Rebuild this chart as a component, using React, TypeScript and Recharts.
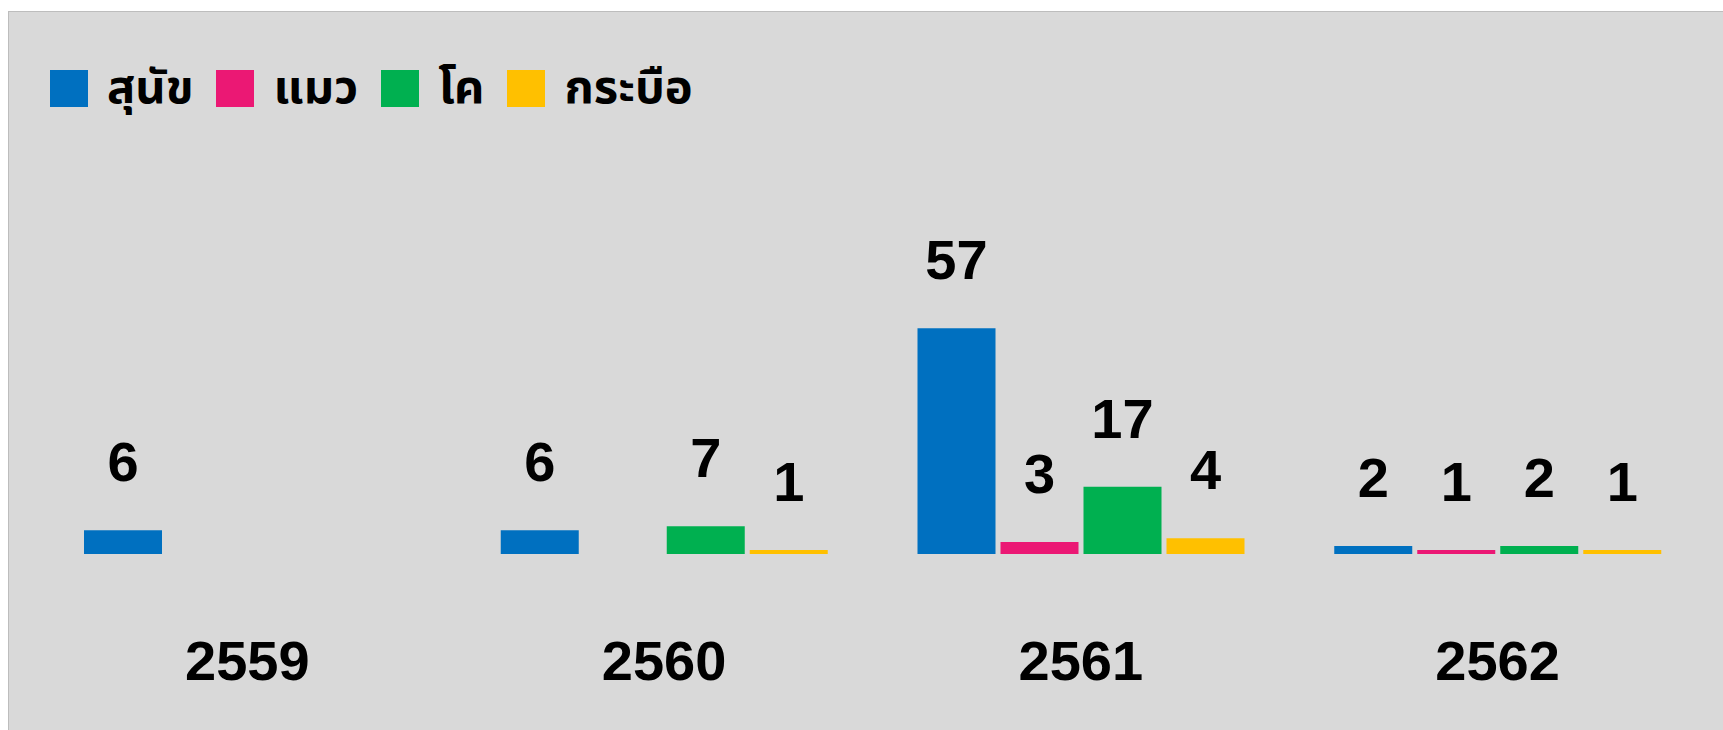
import { BarChart, Bar, XAxis, YAxis, Legend, LabelList } from 'recharts'

const years = ['2559', '2560', '2561', '2562']
const dogs = [6, 6, 57, 2]
const cats = [null, null, 3, 1]
const cattle = [null, 7, 17, 2]
const buffaloes = [null, 1, 4, 1]

const seriesNames = ['สุนัข', 'แมว', 'โค', 'กระบือ']
const seriesColors = ['#0070C0', '#EB1874', '#00B050', '#FFC000']

const chartData = years.map((year, i) => ({
  year,
  dog: dogs[i],
  cat: cats[i],
  cattle: cattle[i],
  buffalo: buffaloes[i],
}))

const seriesKeys = ['dog', 'cat', 'cattle', 'buffalo']

const numberFont = '"Liberation Sans", Arial, sans-serif'
const thaiFont = '"Noto Sans Thai", Tahoma, "Liberation Sans", sans-serif'

const renderValue = (props: any) => {
  const { x, y, width, value } = props
  if (value == null || value === 0) return null
  return (
    <text
      x={Number(x) + Number(width) / 2}
      y={Number(y) - 49}
      textAnchor="middle"
      fontSize={56}
      fontWeight="bold"
      fontFamily={numberFont}
      fill="#000"
    >
      {value}
    </text>
  )
}

const YearTick = (props: any) => {
  const { x, y, payload } = props
  return (
    <text
      x={x}
      y={y + 126}
      textAnchor="middle"
      fontSize={56}
      fontWeight="bold"
      fontFamily={numberFont}
      fill="#000"
    >
      {payload.value}
    </text>
  )
}

// keep series order (recharts sorts legend items by name otherwise)
const renderLegend = () => (
  <div style={{ display: 'flex', alignItems: 'center' }}>
    {seriesNames.map((name, i) => (
      <div key={name} style={{ display: 'flex', alignItems: 'center', marginRight: 23 }}>
        <div style={{ width: 38, height: 37, background: seriesColors[i], marginRight: 19 }} />
        <span
          style={{
            fontFamily: thaiFont,
            fontSize: 47,
            fontWeight: 'bold',
            color: '#000',
            lineHeight: '37px',
          }}
        >
          {name}
        </span>
      </div>
    ))}
  </div>
)

export default function App() {
  return (
    <div
      style={{
        position: 'absolute',
        left: 8,
        top: 11,
        width: 1715,
        height: 719,
        boxSizing: 'border-box',
        borderLeft: '1px solid #bdbdbd',
        borderTop: '1px solid #bdbdbd',
        background: '#D9D9D9',
        overflow: 'hidden',
      }}
    >
      <BarChart
        width={1714}
        height={718}
        data={chartData}
        margin={{ top: 225, right: 17, bottom: 0, left: 30 }}
        barCategoryGap={45}
        barGap={5}
      >
        <XAxis
          dataKey="year"
          height={176}
          axisLine={false}
          tickLine={false}
          tickSize={0}
          tickMargin={0}
          tick={<YearTick />}
          interval={0}
        />
        <YAxis hide domain={[0, 80]} />
        <Legend
          verticalAlign="middle"
          align="center"
          layout="horizontal"
          content={renderLegend}
          wrapperStyle={{ top: 58, left: 41, width: 'auto' }}
        />
        {seriesKeys.map((key, i) => (
          <Bar
            key={key}
            dataKey={key}
            name={seriesNames[i]}
            fill={seriesColors[i]}
            isAnimationActive={false}
          >
            <LabelList dataKey={key} content={renderValue} />
          </Bar>
        ))}
      </BarChart>
    </div>
  )
}
